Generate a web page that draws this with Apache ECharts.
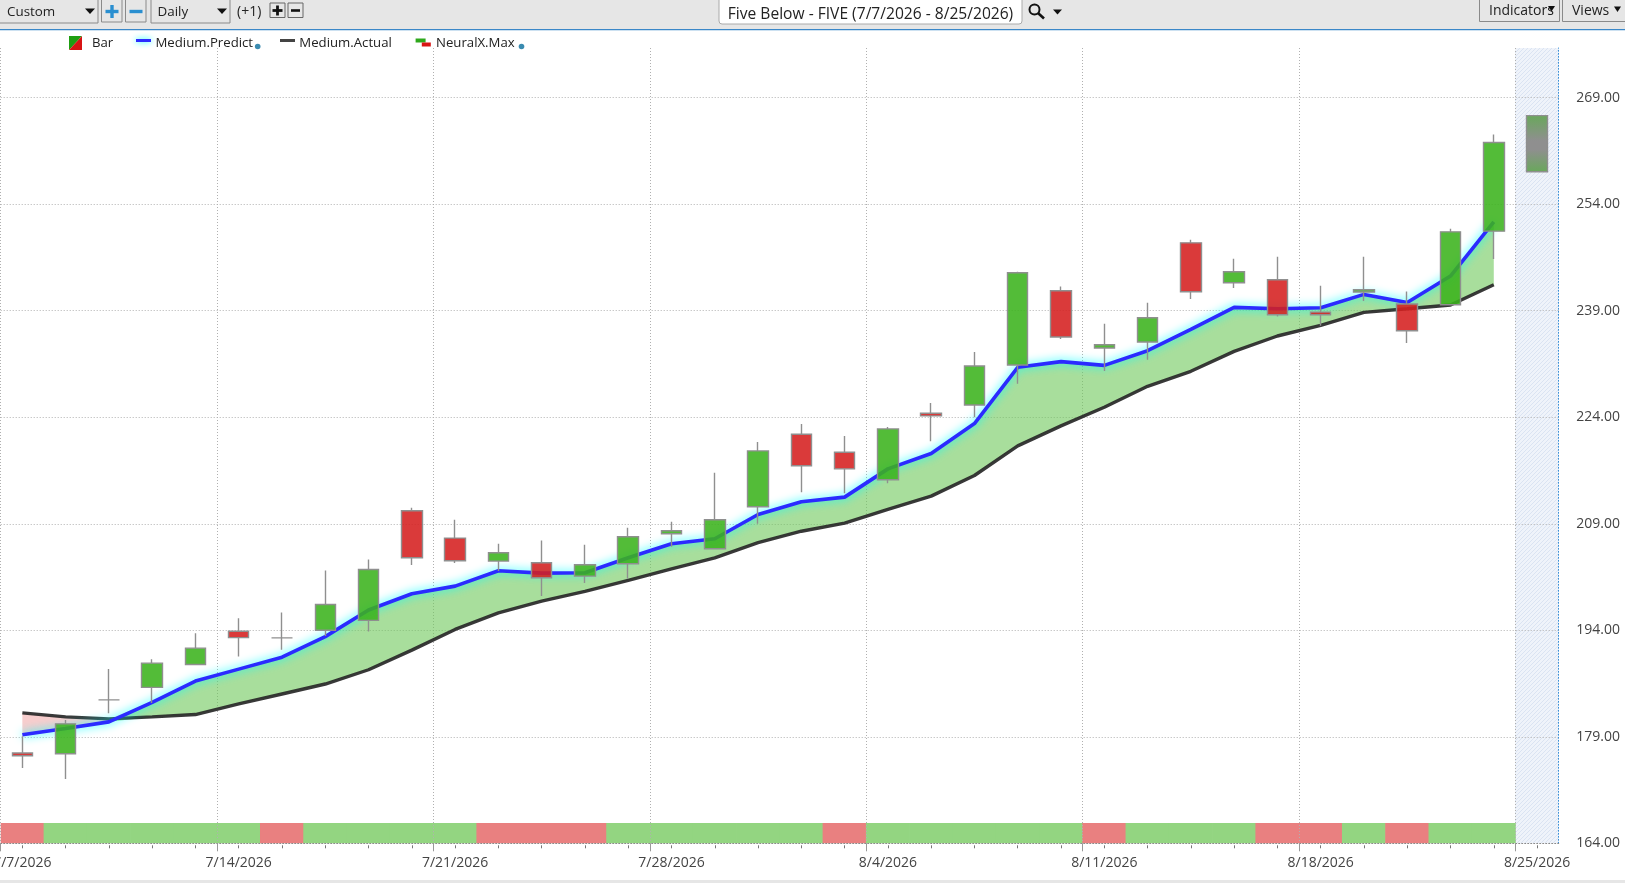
<!DOCTYPE html>
<html><head><meta charset="utf-8">
<style>html,body{margin:0;padding:0;background:#fff;overflow:hidden}#c{width:1625px;height:883px}</style>
<script src="https://cdn.jsdelivr.net/npm/echarts@6/dist/echarts.min.js"></script>
</head><body><div id="c"></div>
<script>
const dates=['7/7/2026','7/8/2026','7/9/2026','7/10/2026','7/13/2026','7/14/2026','7/15/2026','7/16/2026','7/17/2026','7/20/2026','7/21/2026','7/22/2026','7/23/2026','7/24/2026','7/27/2026','7/28/2026','7/29/2026','7/30/2026','7/31/2026','8/3/2026','8/4/2026','8/5/2026','8/6/2026','8/7/2026','8/10/2026','8/11/2026','8/12/2026','8/13/2026','8/14/2026','8/17/2026','8/18/2026','8/19/2026','8/20/2026','8/21/2026','8/24/2026','8/25/2026'];
const opens=[176.71,176.62,184.2,185.96,189.19,193.86,192.93,194,195.4,210.83,206.98,203.74,203.51,201.63,203.37,207.59,205.48,211.39,221.61,219.08,215.19,224.56,225.73,231.36,241.81,233.75,234.59,248.56,242.94,243.36,238.81,241.63,239.94,239.84,250.21];
const closes=[176.34,180.82,184.2,189.37,191.48,192.97,192.93,197.64,202.55,204.21,203.79,204.92,201.39,203.23,207.17,208.01,209.56,219.26,217.16,216.73,222.36,224.19,231.22,244.34,235.3,234.22,238.02,241.67,244.49,238.44,238.44,241.95,236.19,250.11,262.69];
const lows=[174.6,173.07,182.32,183.77,189.19,190.31,191.24,193.21,193.81,203.18,203.46,202.33,198.81,200.64,201.25,205.76,205.48,209,213.45,213.31,214.72,220.62,224,228.73,235.01,230.51,232.11,240.64,242.19,238.2,236.89,240.36,234.45,239.84,246.29];
const highs=[179.09,181.38,188.53,189.93,193.58,195.68,196.52,202.41,203.95,211.25,209.56,206.18,206.65,206.04,208.44,209.28,216.2,220.53,223.06,221.37,222.64,226.02,233.19,244.49,242.42,237.17,240.13,248.98,246.31,246.59,242.52,246.59,241.72,250.53,263.81];
const forecastRange=[258.58,266.48];
const predict=[179.28,180.17,181.1,183.86,186.85,188.53,190.21,193.11,196.85,199.15,200.22,202.38,202.05,202.1,204.21,206.18,206.89,210.31,212.1,212.75,216.73,218.89,223.11,231.03,231.83,231.31,233.37,236.37,239.47,239.28,239.42,241.3,240.17,243.88,251.5];
const actual=[182.36,181.8,181.52,181.8,182.13,183.63,185.03,186.43,188.44,191.2,194.12,196.46,198.11,199.47,201.02,202.66,204.21,206.35,207.95,209.09,211.01,212.89,215.8,219.97,222.78,225.41,228.36,230.47,233.28,235.44,236.94,238.77,239.28,239.8,242.66];
const neuralX=[-1,1,1,1,1,1,-1,1,1,1,1,-1,-1,-1,1,1,1,1,1,-1,1,1,1,1,1,-1,1,1,1,-1,-1,1,-1,1,1];
const stripTop=166.85, axisMin=164, axisMax=276;

const FONT='"Open Sans"';
const GREEN_C='rgba(59,179,28,.88)', RED_C='rgba(213,31,31,.88)', WICK='#8f8f8f';
const base=predict.map((p,i)=>Math.min(p,actual[i]));
const upper=predict.map((p,i)=>Math.max(p-actual[i],0));
const lower=predict.map((p,i)=>Math.max(actual[i]-p,0));

const pat=document.createElement('canvas');pat.width=4;pat.height=4;
const g=pat.getContext('2d');
g.fillStyle='rgba(232,238,248,.7)';g.fillRect(0,0,4,4);
g.strokeStyle='rgba(208,220,238,.7)';g.lineWidth=1;
g.beginPath();g.moveTo(-1,5);g.lineTo(5,-1);g.moveTo(3,5);g.lineTo(5,3);g.moveTo(-1,1);g.lineTo(1,-1);g.stroke();

const candleData=opens.map((o,i)=>[o,closes[i],lows[i],highs[i]]);
candleData.push({value:[forecastRange[0],forecastRange[1],forecastRange[0],forecastRange[1]],
  itemStyle:{color:{type:'linear',x:0,y:0,x2:0,y2:1,colorStops:[{offset:0,color:'#68a85a'},{offset:.45,color:'#8f8f8f'},{offset:.6,color:'#8f8f8f'},{offset:1,color:'#68a85a'}]},borderColor:'#8f8f8f'}});

function txt(x,y,s,o){return {type:'text',x,y,silent:true,z:50,style:Object.assign({text:s,font:'13.4px '+FONT,fill:'#222',textVerticalAlign:'middle'},o||{})};}
function rect(x,y,w,h,fill,stroke,r){return {type:'rect',silent:true,z:40,shape:{x,y,width:w,height:h,r:r||0},style:{fill:fill,stroke:stroke||null,lineWidth:stroke?1:0}};}
function tri(x,y,w,h){return {type:'polygon',silent:true,z:50,shape:{points:[[x,y],[x+w,y],[x+w/2,y+h]]},style:{fill:'#111'}};}
function plus(cx,cy,a,t,c){return [rect(cx-a,cy-t,2*a,2*t,c),rect(cx-t,cy-a,2*t,2*a,c)];}

const graphic=[
 rect(0,0,1625,29,'#e6e6e6'),rect(0,29,1625,1.2,'#3a87c8'),rect(0,880,1625,3,'#e6e6e6'),
 rect(-2,-2,100,25,'#e6e6e6','#8a8a8a'),txt(7,12,'Custom'),tri(85,8.5,10,5.5),
 rect(101.5,-2,20.5,24,'#e6e6e6','#8a8a8a'),...plus(112,11.5,6.5,1.7,'#2a8fd0'),
 rect(125.5,-2,20.5,24,'#e6e6e6','#8a8a8a'),rect(129.5,9.8,13,3.4,'#2a8fd0'),
 rect(151,-2,79,25,'#e6e6e6','#8a8a8a'),txt(157.5,12,'Daily'),tri(217,8.5,10,5.5),
 txt(237,12,'(+1)',{font:'14px '+FONT}),
 rect(270,3,15,14.5,'#e6e6e6','#666'),...plus(277.5,10.5,5,1.4,'#111'),
 rect(288,3,15,14.5,'#e6e6e6','#666'),rect(291,9.2,9,2.6,'#111'),
 rect(719,-3,303,27,'#fff','#aaa',3),txt(870.5,15,'Five Below - FIVE (7/7/2026 - 8/25/2026)',{textAlign:'center',font:'15.6px '+FONT}),
 {type:'circle',silent:true,z:50,shape:{cx:1034.5,cy:9.5,r:5},style:{fill:null,stroke:'#111',lineWidth:2}},
 {type:'line',silent:true,z:50,shape:{x1:1038,y1:13,x2:1044,y2:18.5},style:{stroke:'#111',lineWidth:2.6}},
 tri(1053,9.5,9,5),
 rect(1479.5,-2,80,23.5,'#e6e6e6','#8a8a8a'),txt(1489,11.5,'Indicators',{font:'14px '+FONT}),tri(1548,6,7,5.5),
 rect(1562.5,-2,65,23.5,'#e6e6e6','#8a8a8a'),txt(1572,11.5,'Views',{font:'14px '+FONT}),tri(1614,6.5,7,5.5),
 {type:'polygon',silent:true,z:50,shape:{points:[[69,36],[82,36],[69,50]]},style:{fill:'#1f9e12'}},
 {type:'polygon',silent:true,z:50,shape:{points:[[82,36],[82,50],[69,50]]},style:{fill:'#d81414'}},
 txt(92,43.5,'Bar',{font:'13.2px '+FONT}),
 {type:'rect',silent:true,z:50,shape:{x:136,y:39,width:15,height:3},style:{fill:'#2b2bff',shadowBlur:6,shadowColor:'#0ff'}},
 txt(155.5,43.5,'Medium.Predict',{font:'13.2px '+FONT}),
 {type:'circle',silent:true,z:50,shape:{cx:257.7,cy:46.5,r:2.8},style:{fill:'#3a8bb0'}},
 rect(280,39,15,3,'#444'),txt(299.3,43.5,'Medium.Actual',{font:'13.2px '+FONT}),
 rect(415.6,38.5,10,4,'#2ea81c'),rect(421.8,42.5,9,4,'#d81414'),txt(436,43.5,'NeuralX.Max',{font:'13.2px '+FONT}),
 {type:'circle',silent:true,z:50,shape:{cx:521.5,cy:46.5,r:2.8},style:{fill:'#3a8bb0'}}
];

const DOT=[1,2];
const chart=echarts.init(document.getElementById('c'),null,{renderer:'canvas',width:1625,height:883});
chart.setOption({
 animation:false,
 textStyle:{fontFamily:FONT},
 graphic:graphic,
 grid:{left:0.7,top:48,width:1558,height:795.3,containLabel:false,outerBoundsMode:'none'},
 xAxis:[
  {type:'category',data:dates,boundaryGap:true,z:1,
   axisLine:{show:true,onZero:false,lineStyle:{color:'#8a8a8a',type:DOT,width:1}},
   axisTick:{show:false},splitLine:{show:false},
   axisLabel:{interval:(i)=>i%5===0,margin:12.5,fontSize:14,color:'#444',fontFamily:FONT,hideOverlap:false,showMinLabel:true,showMaxLabel:true}},
  {type:'category',data:dates,boundaryGap:true,position:'bottom',offset:2,z:1,
   axisLine:{show:false},axisLabel:{show:false},splitLine:{show:false},
   axisTick:{show:true,alignWithLabel:true,length:3,interval:0,lineStyle:{color:'#777',width:1}}},
  {type:'value',min:0,max:36,position:'bottom',z:1,
   axisLine:{show:false},axisLabel:{show:false},
   axisTick:{show:true,length:8,customValues:[0,5,10,15,20,25,30,35],lineStyle:{color:'#999',width:1}},
   splitLine:{show:true,lineStyle:{color:'#b0b0b0',type:DOT,width:1}}}
 ],
 yAxis:{type:'value',position:'right',min:axisMin,max:axisMax,interval:15,z:1,
   axisLine:{show:true,onZero:false,lineStyle:{color:'#3a8fd8',type:DOT,width:1}},axisTick:{show:false},
   splitLine:{show:true,showMinLine:false,showMaxLine:false,lineStyle:{color:'#b0b0b0',type:DOT,width:1}},
   axisLabel:{margin:17.5,fontSize:14,color:'#444',fontFamily:FONT,padding:[2,0,0,0],showMaxLabel:false,formatter:(v)=>v.toFixed(2)}},
 series:[
  {name:'Forecast',type:'bar',barWidth:43.3,barGap:'-100%',z:0,silent:true,
   data:dates.map((d,i)=>i===35?axisMax:null),itemStyle:{color:{image:pat,repeat:'repeat'}}},
  {name:'NeuralX.Max',type:'bar',barWidth:44,barGap:'-100%',z:0,silent:true,
   data:neuralX.map(v=>({value:stripTop,itemStyle:{color:v>0?'#93d581':'#e98080'}}))},
  {name:'base',type:'line',stack:'band',data:base,symbol:'none',lineStyle:{width:0},z:2,silent:true},
  {name:'above',type:'line',stack:'band',data:upper,symbol:'none',lineStyle:{width:0},areaStyle:{color:'rgba(110,200,90,.6)',opacity:1},z:2,silent:true},
  {name:'below',type:'line',stack:'band',data:lower,symbol:'none',lineStyle:{width:0},areaStyle:{color:'rgba(235,130,130,.4)',opacity:1},z:2,silent:true},
  {name:'Medium.Actual',type:'line',data:actual,symbol:'none',lineStyle:{color:'rgba(40,40,40,.92)',width:3.4},z:3},
  {name:'Medium.Predict',type:'line',data:predict,symbol:'none',lineStyle:{color:'#2b2bff',width:3.6,shadowColor:'#00ffff',shadowBlur:10},z:3},
  {name:'Bar',type:'candlestick',data:candleData,barWidth:21,z:4,
   itemStyle:{color:GREEN_C,color0:RED_C,borderColor:WICK,borderColor0:WICK,borderColorDoji:WICK,borderWidth:1.4}}
 ]
});
</script></body></html>
